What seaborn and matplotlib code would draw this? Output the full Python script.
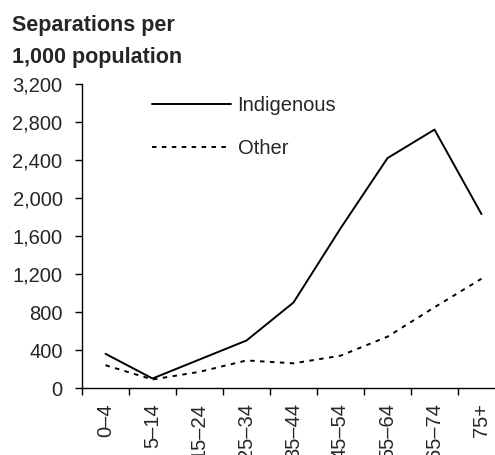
import matplotlib
matplotlib.use("Agg")
import matplotlib.pyplot as plt
import numpy as np
import pandas as pd
import seaborn as sns

# age groups and separation rates per 1,000 population
age_groups = ["0\u20134", "5\u201314", "15\u201324", "25\u201334", "35\u201344",
              "45\u201354", "55\u201364", "65\u201374", "75+"]
indigenous = [360, 100, 300, 500, 900, 1680, 2420, 2720, 1830]
other = [240, 90, 170, 290, 260, 340, 540, 850, 1150]
y_ticks = [0, 400, 800, 1200, 1600, 2000, 2400, 2800, 3200]

df = pd.DataFrame({
    "age": age_groups * 2,
    "rate": indigenous + other,
    "group": ["Indigenous"] * len(age_groups) + ["Other"] * len(age_groups),
})

sns.set_style("ticks")
plt.rcParams["font.family"] = ["Liberation Sans", "DejaVu Sans"]

fig = plt.figure(figsize=(4.95, 4.55), dpi=100)
ax = fig.add_axes([82 / 495, 1 - 388 / 455, 423 / 495, 304 / 455])

sns.lineplot(data=df[df.group == "Indigenous"], x="age", y="rate", color="black",
             linewidth=1.4, sort=False, ax=ax, label="Indigenous")
sns.lineplot(data=df[df.group == "Other"], x="age", y="rate", color="black",
             linewidth=1.4, linestyle=(0, (2.3, 2.8)), sort=False, ax=ax, label="Other")

ax.set_xlim(-0.5, 8.5)
ax.set_ylim(0, 3200)
ax.set_yticks(y_ticks)
ax.set_yticklabels(["{:,}".format(v) for v in y_ticks], fontsize=14.5)
ax.set_xticks(range(len(age_groups)))
# the reference cuts the long rotated labels off at the bottom edge
ax.set_xticklabels(age_groups, rotation=90, fontsize=14.5)
ax.set_xticks(np.arange(-0.5, len(age_groups), 1.0), minor=True)
ax.tick_params(axis="x", which="major", length=0, pad=11)
ax.tick_params(axis="x", which="minor", length=5, width=1, color="black")
ax.tick_params(axis="y", length=5, width=1, color="black", pad=9)
ax.set_xlabel("")
ax.set_ylabel("")
for s in ["top", "right"]:
    ax.spines[s].set_visible(False)
for s in ["left", "bottom"]:
    ax.spines[s].set_color("black")
    ax.spines[s].set_linewidth(1)

ax.legend(frameon=False, fontsize=14.5, loc="upper left",
          bbox_to_anchor=(152 / 495, 1 - 96 / 455), bbox_transform=fig.transFigure,
          borderpad=0, borderaxespad=0, handlelength=3.9, handletextpad=0.35,
          labelspacing=1.2)

fig.text(12 / 495, 1 - 15 / 455, "Separations per\n1,000 population", fontsize=15.5,
         fontweight="bold", va="top", ha="left", linespacing=1.7)

fig.savefig("out.png", dpi=100)
